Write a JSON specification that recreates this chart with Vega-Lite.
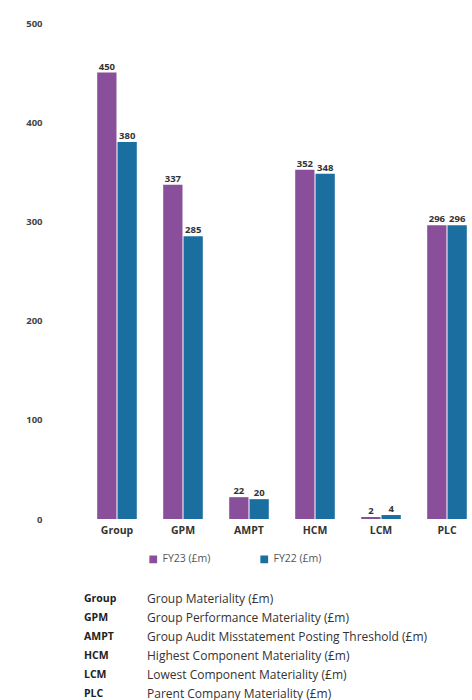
{
  "$schema": "https://vega.github.io/schema/vega-lite/v6.json",
  "padding": {"left": 25, "top": 18, "right": 0, "bottom": 0},
  "bounds": "flush",
  "spacing": 70,
  "config": {
    "view": {"stroke": null},
    "font": "Open Sans",
    "axis": {"labelFont": "Open Sans"},
    "legend": {"labelFont": "Open Sans"}
  },
  "vconcat": [
    {
      "width": 396,
      "height": 496,
      "data": {
        "values": [
          {"cat": "Group", "series": "FY23 (£m)", "value": 450},
          {"cat": "Group", "series": "FY22 (£m)", "value": 380},
          {"cat": "GPM", "series": "FY23 (£m)", "value": 337},
          {"cat": "GPM", "series": "FY22 (£m)", "value": 285},
          {"cat": "AMPT", "series": "FY23 (£m)", "value": 22},
          {"cat": "AMPT", "series": "FY22 (£m)", "value": 20},
          {"cat": "HCM", "series": "FY23 (£m)", "value": 352},
          {"cat": "HCM", "series": "FY22 (£m)", "value": 348},
          {"cat": "LCM", "series": "FY23 (£m)", "value": 2},
          {"cat": "LCM", "series": "FY22 (£m)", "value": 4},
          {"cat": "PLC", "series": "FY23 (£m)", "value": 296},
          {"cat": "PLC", "series": "FY22 (£m)", "value": 296}
        ]
      },
      "encoding": {
        "x": {
          "field": "cat", "type": "nominal", "sort": null,
          "scale": {"paddingInner": 0.4, "paddingOuter": 0.2},
          "axis": {"title": null, "labelAngle": 0, "domain": false, "ticks": false, "labelPadding": 6, "labelFontSize": 10.5, "labelFontWeight": "bold", "labelColor": "#333333"}
        },
        "xOffset": {"field": "series", "sort": ["FY23 (£m)", "FY22 (£m)"], "scale": {"paddingInner": 0.05}},
        "y": {
          "field": "value", "type": "quantitative",
          "scale": {"domain": [0, 500]},
          "axis": {"title": null, "values": [0, 100, 200, 300, 400, 500], "grid": false, "domain": false, "ticks": false, "labelPadding": 42, "labelFontSize": 9.5, "labelFontWeight": "bold", "labelColor": "#444444"}
        }
      },
      "layer": [
        {
          "mark": {"type": "bar"},
          "encoding": {
            "color": {
              "field": "series", "type": "nominal",
              "scale": {"domain": ["FY23 (£m)", "FY22 (£m)"], "range": ["#8a4f9a", "#1b6fa0"]},
              "legend": {"title": null, "orient": "none", "direction": "horizontal", "legendX": 64, "legendY": 531, "symbolType": "square", "symbolSize": 60, "labelFontSize": 10.5, "labelColor": "#555555", "columnPadding": 48, "symbolStrokeWidth": 0}
            }
          }
        },
        {
          "mark": {"type": "text", "dy": -6, "fontSize": 9.5, "fontWeight": "bold", "color": "#333333"},
          "encoding": {"text": {"field": "value", "type": "quantitative"}}
        }
      ]
    },
    {
      "width": 63,
      "height": 114,
      "data": {
        "values": [
          {"row": 1, "abbr": "Group", "desc": "Group Materiality (£m)"},
          {"row": 2, "abbr": "GPM", "desc": "Group Performance Materiality (£m)"},
          {"row": 3, "abbr": "AMPT", "desc": "Group Audit Misstatement Posting Threshold (£m)"},
          {"row": 4, "abbr": "HCM", "desc": "Highest Component Materiality (£m)"},
          {"row": 5, "abbr": "LCM", "desc": "Lowest Component Materiality (£m)"},
          {"row": 6, "abbr": "PLC", "desc": "Parent Company Materiality (£m)"}
        ]
      },
      "encoding": {
        "y": {"field": "row", "type": "ordinal", "scale": {"paddingInner": 0, "paddingOuter": 0}, "axis": null}
      },
      "layer": [
        {
          "mark": {"type": "text", "align": "left", "baseline": "middle", "fontSize": 10.5, "fontWeight": "bold", "color": "#222222"},
          "encoding": {
            "x": {"datum": "abbr", "type": "nominal", "scale": {"type": "point", "domain": ["abbr", "desc"], "padding": 0}, "axis": null},
            "text": {"field": "abbr", "type": "nominal"}
          }
        },
        {
          "mark": {"type": "text", "align": "left", "baseline": "middle", "fontSize": 12, "fontWeight": 500, "color": "#333333"},
          "encoding": {
            "x": {"datum": "desc", "type": "nominal"},
            "text": {"field": "desc", "type": "nominal"}
          }
        }
      ]
    }
  ]
}
